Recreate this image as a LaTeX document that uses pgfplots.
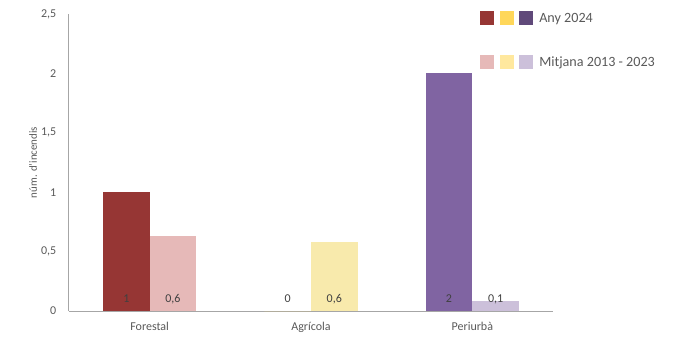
\documentclass[border=0pt]{standalone}
\usepackage{fontspec}
\setmainfont{Carlito}
\usepackage{pgfplots}
\pgfplotsset{compat=1.18}
\definecolor{c1}{RGB}{150,54,52}
\definecolor{c1l}{RGB}{230,185,184}
\definecolor{c2}{RGB}{255,215,90}
\definecolor{c2l}{RGB}{248,234,172}
\definecolor{c2ll}{RGB}{255,232,158}
\definecolor{c3}{RGB}{128,100,162}
\definecolor{c3d}{RGB}{96,73,122}
\definecolor{c3l}{RGB}{204,192,218}
\definecolor{txt}{RGB}{89,89,89}
\definecolor{lbl}{RGB}{64,64,64}
\definecolor{axl}{RGB}{166,166,166}
\begin{document}
\begin{tikzpicture}
\useasboundingbox (-51.75pt,-18.75pt) rectangle (459.75pt,233.25pt);
\begin{axis}[
  at={(0,0)}, anchor=south west,
  scale only axis, width=363pt, height=222.75pt,
  xmin=-0.5, xmax=2.5, ymin=0, ymax=2.5,
  axis x line*=bottom, axis y line*=left,
  axis line style={draw=axl, line width=0.75pt, -},
  xtick={0,1,2}, xticklabels={Forestal,Agrícola,Periurbà},
  ytick={0,0.5,1,1.5,2,2.5},
  major tick length=0pt,
  /pgf/number format/use comma,
  /pgf/number format/assume math mode=true,
  tick label style={font=\fontsize{9}{11}\selectfont, text=txt},
  yticklabel style={xshift=-6pt},
  xticklabel style={yshift=-5pt},
  ylabel={núm. d'incendis},
  ylabel style={at={(axis description cs:-0.0744,0.5)}, anchor=center, font=\fontsize{8.2}{10}\selectfont, text=txt},
  clip=false,
]
% Any 2024 and Mitjana 2013-2023
\addplot[ybar, bar width=35pt, bar shift=-17.5pt, fill=c1, draw=none] coordinates {(0,1)};
\addplot[ybar, bar width=35pt, bar shift=17.5pt, fill=c1l, draw=none] coordinates {(0,0.63)};
\addplot[ybar, bar width=35pt, bar shift=-17.5pt, fill=c2, draw=none] coordinates {(1,0)};
\addplot[ybar, bar width=35pt, bar shift=17.5pt, fill=c2l, draw=none] coordinates {(1,0.58)};
\addplot[ybar, bar width=35pt, bar shift=-17.5pt, fill=c3, draw=none] coordinates {(2,2)};
\addplot[ybar, bar width=35pt, bar shift=17.5pt, fill=c3l, draw=none] coordinates {(2,0.08)};
% data labels at the base of the bars
\addplot[only marks, mark=none, draw=none,
  point meta=explicit symbolic, nodes near coords,
  every node near coord/.append style={anchor=center, yshift=9pt, font=\fontsize{9}{11}\selectfont, text=lbl}]
  coordinates {(-0.1446,0) [1] (0.8554,0) [0] (1.8554,0) [2]};
\addplot[only marks, mark=none, draw=none,
  point meta=explicit symbolic, nodes near coords,
  every node near coord/.append style={anchor=center, yshift=9pt, font=\fontsize{9}{11}\selectfont, text=lbl}]
  coordinates {(0.1446,0) [0,6] (1.1446,0) [0,6] (2.1446,0) [0,1]};
\end{axis}
% legend
\fill[c1] (308.25pt,214.5pt) rectangle ++(10.5pt,10.5pt);
\fill[c2] (323.25pt,214.5pt) rectangle ++(10.5pt,10.5pt);
\fill[c3d] (337.5pt,214.5pt) rectangle ++(10.5pt,10.5pt);
\node[anchor=base west, inner sep=0pt, font=\fontsize{10.6}{12}\selectfont, text=txt] at (352.5pt,216.4pt) {Any 2024};
\fill[c1l] (308.25pt,181.5pt) rectangle ++(10.5pt,10.5pt);
\fill[c2ll] (323.25pt,181.5pt) rectangle ++(10.5pt,10.5pt);
\fill[c3l] (337.5pt,181.5pt) rectangle ++(10.5pt,10.5pt);
\node[anchor=base west, inner sep=0pt, font=\fontsize{10.6}{12}\selectfont, text=txt] at (352.5pt,183.4pt) {Mitjana 2013 - 2023};
\end{tikzpicture}
\end{document}
